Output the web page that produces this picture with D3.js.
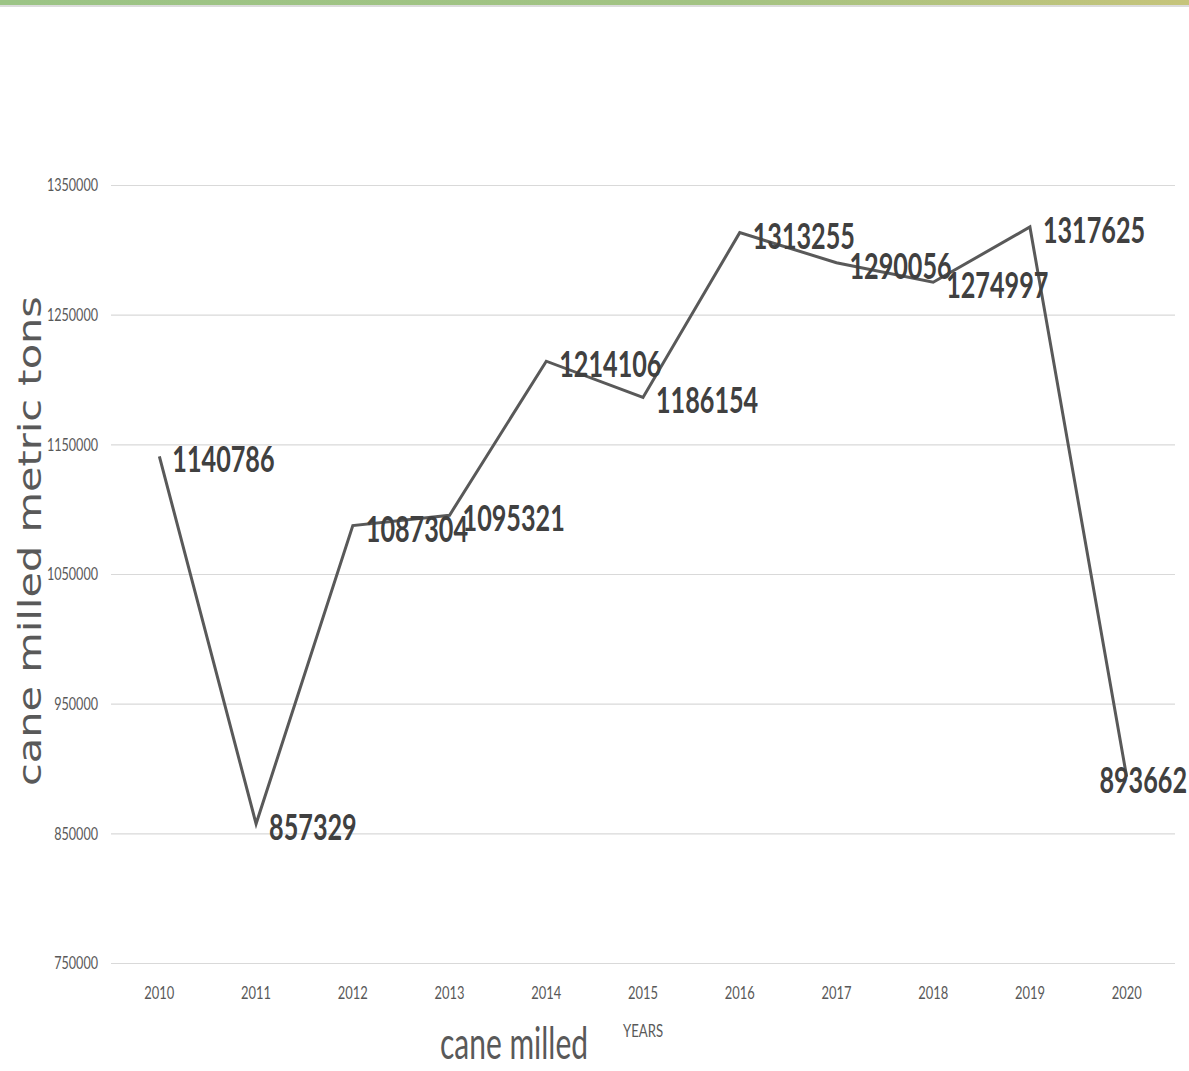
<!DOCTYPE html>
<html>
<head>
<meta charset="utf-8">
<script src="https://cdn.jsdelivr.net/npm/d3@7"></script>
<style>
  html, body { margin: 0; padding: 0; background: #ffffff; }
  svg { display: block; }
</style>
</head>
<body>
<svg id="chart" width="1189" height="1071"></svg>
<script>
// Cane milled per season, metric tons
const years = ["2010", "2011", "2012", "2013", "2014", "2015", "2016", "2017", "2018", "2019", "2020"];
const caneMilled = [1140786, 857329, 1087304, 1095321, 1214106, 1186154, 1313255, 1290056, 1274997, 1317625, 893662];
const yTicks = [750000, 850000, 950000, 1050000, 1150000, 1250000, 1350000];

const W = 1189, H = 1071;
const svg = d3.select("#chart");
const plot = { left: 111, right: 1175, top: 185, bottom: 963 };

// Header band with gradient and thin shadow line
const defs = svg.append("defs");
const grad = defs.append("linearGradient").attr("id", "band").attr("x1", "0").attr("x2", "1");
grad.append("stop").attr("offset", "0").attr("stop-color", "#9cc486");
grad.append("stop").attr("offset", "0.6").attr("stop-color", "#a3c383");
grad.append("stop").attr("offset", "1").attr("stop-color", "#c6c47b");
svg.append("rect").attr("x", 0).attr("y", 0).attr("width", W).attr("height", 5).attr("fill", "url(#band)");
svg.append("rect").attr("x", 0).attr("y", 5).attr("width", W).attr("height", 2).attr("fill", "#dcdcdc");

const x = d3.scaleBand().domain(years).range([plot.left, plot.right]).padding(0);
const cx = d => x(d) + x.bandwidth() / 2;
const y = d3.scaleLinear().domain([750000, 1350000]).range([plot.bottom, plot.top]);

// Horizontal gridlines
const yAxis = d3.axisLeft(y).tickValues(yTicks).tickSize(-(plot.right - plot.left)).tickPadding(13).tickFormat(d3.format("d"));
const gy = svg.append("g").attr("transform", `translate(${plot.left},0)`).call(yAxis);
gy.select(".domain").remove();
gy.selectAll(".tick line").attr("stroke", "#d9d9d9").attr("stroke-width", 1.2);
gy.selectAll(".tick text")
  .attr("fill", "#595959")
  .style("font-family", "Lato, 'Open Sans', sans-serif")
  .style("font-size", "18px")
  .attr("textLength", d => String(d).length * 7.3)
  .attr("lengthAdjust", "spacingAndGlyphs");

// Category axis labels
const xAxis = d3.axisBottom(x).tickSize(0).tickPadding(23);
const gx = svg.append("g").attr("transform", `translate(0,${plot.bottom})`).call(xAxis);
gx.select(".domain").remove();
gx.selectAll(".tick text")
  .attr("fill", "#595959")
  .style("font-family", "Lato, 'Open Sans', sans-serif")
  .style("font-size", "18px")
  .attr("textLength", 30)
  .attr("lengthAdjust", "spacingAndGlyphs");

// Series line
const line = d3.line().x((d, i) => cx(years[i])).y(d => y(d));
svg.append("path")
  .datum(caneMilled)
  .attr("d", line)
  .attr("fill", "none")
  .attr("stroke", "#595959")
  .attr("stroke-width", 3)
  .attr("stroke-linejoin", "miter");

// Value labels to the right of each point
const digitW = 14.6;
svg.append("g").selectAll("text")
  .data(caneMilled)
  .join("text")
  .attr("x", (d, i) => {
    const len = String(d).length * digitW;
    return Math.min(cx(years[i]) + 13, W - 2 - len);
  })
  .attr("y", d => y(d) + 16)
  .attr("fill", "#404040")
  .style("font-family", "Lato, 'Open Sans', sans-serif")
  .style("font-weight", "700")
  .style("font-size", "37px")
  .attr("textLength", d => String(d).length * digitW)
  .attr("lengthAdjust", "spacingAndGlyphs")
  .text(d => d);

// Axis titles
svg.append("text")
  .attr("transform", `translate(41,541) rotate(-90)`)
  .attr("text-anchor", "middle")
  .attr("fill", "#595959")
  .style("font-family", "'DejaVu Sans', sans-serif")
  .style("font-size", "32px")
  .attr("textLength", 490)
  .attr("lengthAdjust", "spacingAndGlyphs")
  .text("cane  milled metric tons");

svg.append("text")
  .attr("x", 643).attr("y", 1037)
  .attr("text-anchor", "middle")
  .attr("fill", "#595959")
  .style("font-family", "Lato, 'Open Sans', sans-serif")
  .style("font-size", "18px")
  .attr("textLength", 40)
  .attr("lengthAdjust", "spacingAndGlyphs")
  .text("YEARS");

svg.append("text")
  .attr("x", 514).attr("y", 1059)
  .attr("text-anchor", "middle")
  .attr("fill", "#595959")
  .style("font-family", "Lato, 'Open Sans', sans-serif")
  .style("font-size", "45px")
  .attr("textLength", 148)
  .attr("lengthAdjust", "spacingAndGlyphs")
  .text("cane milled");
</script>
</body>
</html>
